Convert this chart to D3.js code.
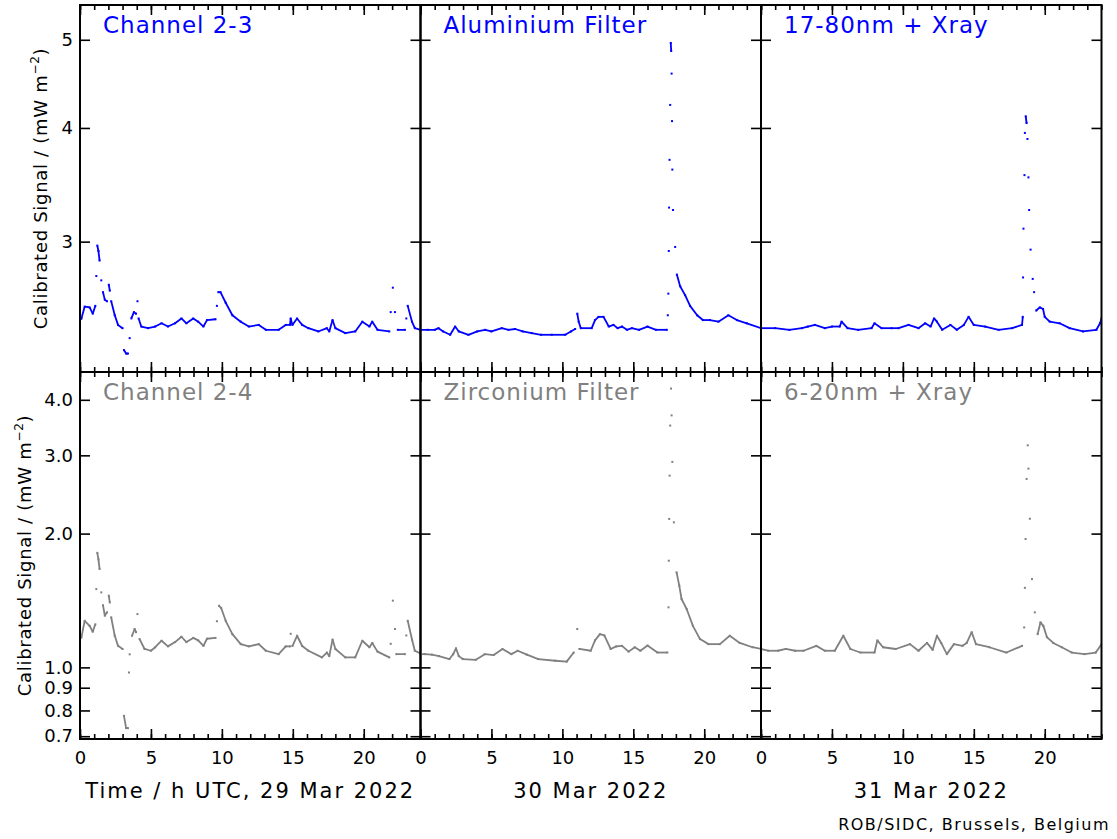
<!DOCTYPE html>
<html>
<head>
<meta charset="utf-8">
<script src="https://cdn.jsdelivr.net/npm/d3@7"></script>
<style>
  body { margin: 0; background: #fff; }
  text { font-family: "DejaVu Sans", sans-serif; }
</style>
</head>
<body>
<div id="chart"></div>
<script>
// days and channel names
var days = ["29 Mar 2022", "30 Mar 2022", "31 Mar 2022"];
var topNames = ["Channel 2-3", "Aluminium Filter", "17-80nm + Xray"];
var bottomNames = ["Channel 2-4", "Zirconium Filter", "6-20nm + Xray"];

// tick values
var hourMajor = [0, 5, 10, 15, 20];
var hourMinor = d3.range(0, 25);
var topTicks = [3, 4, 5];
var bottomTicks = [0.7, 0.8, 0.9, 1.0, 2.0, 3.0, 4.0];

// channel 2-3 (Aluminium), [hour, mW m-2]
var ch23Day1 = [[0.0,2.46],[0.1,2.47],[0.33,2.545],[0.68,2.54],[0.9,2.50],[1.08,2.55],[1.15,2.75],[1.22,2.97],[1.3,2.93],[1.38,2.86],[1.5,2.72],[1.62,2.64],[1.75,2.59],[1.9,2.58],[2.03,2.69],[2.1,2.65],[2.2,2.58],[2.45,2.49],[2.68,2.43],[3.0,2.41],[3.1,2.28],[3.25,2.26],[3.38,2.26],[3.5,2.35],[3.62,2.47],[3.8,2.51],[3.95,2.50],[4.05,2.58],[4.13,2.47],[4.32,2.42],[4.8,2.41],[5.3,2.42],[5.75,2.44],[6.2,2.42],[6.7,2.44],[7.15,2.47],[7.5,2.44],[7.98,2.47],[8.33,2.45],[8.7,2.42],[8.95,2.46],[9.55,2.465],[9.65,2.55],[9.75,2.64],[9.9,2.64],[10.27,2.57],[10.74,2.49],[11.33,2.45],[11.9,2.42],[12.6,2.43],[13.1,2.40],[14.0,2.40],[14.5,2.43],[14.8,2.43],[14.85,2.47],[14.97,2.43],[15.3,2.47],[15.66,2.43],[16.1,2.41],[16.8,2.39],[17.4,2.41],[17.57,2.39],[17.8,2.46],[18.0,2.41],[18.7,2.38],[19.4,2.39],[19.9,2.45],[20.4,2.42],[20.6,2.45],[20.97,2.40],[21.8,2.39],[21.9,2.51],[22.05,2.67],[22.2,2.51],[22.4,2.40],[22.9,2.40],[23.0,2.47],[23.1,2.55],[23.4,2.45],[23.6,2.41],[24.0,2.40]];
var ch23Day2 = [[0,2.40],[0.5,2.40],[1.0,2.40],[1.27,2.41],[1.6,2.39],[2.09,2.37],[2.44,2.42],[2.7,2.39],[3.38,2.37],[4.0,2.39],[4.56,2.40],[5.0,2.39],[5.73,2.41],[6.2,2.40],[6.67,2.405],[7.2,2.39],[7.84,2.38],[8.5,2.37],[9.25,2.37],[10.2,2.37],[10.6,2.39],[10.9,2.405],[11.05,2.50],[11.15,2.45],[11.3,2.41],[12.07,2.41],[12.3,2.46],[12.55,2.48],[12.9,2.48],[13.27,2.42],[13.6,2.43],[13.9,2.41],[14.2,2.42],[14.55,2.40],[14.9,2.41],[15.4,2.40],[16.0,2.42],[16.6,2.40],[17.36,2.40],[17.43,2.49],[17.47,2.63],[17.5,2.93],[17.52,3.27],[17.55,3.69],[17.6,4.24],[17.64,4.96],[17.67,4.86],[17.7,4.59],[17.73,4.07],[17.75,3.6],[17.8,3.25],[17.95,2.96],[18.07,2.76],[18.3,2.68],[18.65,2.62],[19.0,2.55],[19.5,2.49],[19.9,2.46],[20.4,2.46],[21.0,2.45],[21.7,2.49],[22.3,2.46],[23.0,2.44],[24.0,2.41]];
var ch23Day3 = [[0,2.41],[1.0,2.41],[2.0,2.40],[2.88,2.41],[3.3,2.42],[3.8,2.43],[4.5,2.41],[5.0,2.42],[5.55,2.42],[5.68,2.45],[6.1,2.41],[6.85,2.40],[7.79,2.41],[8.0,2.44],[8.5,2.41],[9.2,2.41],[9.7,2.41],[10.4,2.43],[11.1,2.41],[11.57,2.44],[11.95,2.42],[12.2,2.47],[12.4,2.45],[12.77,2.40],[13.35,2.43],[13.8,2.40],[14.3,2.43],[14.63,2.48],[15.0,2.43],[15.8,2.42],[16.75,2.40],[17.7,2.41],[18.4,2.43],[18.45,2.48],[18.47,2.74],[18.5,3.10],[18.57,3.55],[18.6,3.95],[18.66,4.12],[18.72,4.05],[18.78,3.89],[18.85,3.53],[18.9,3.25],[19.0,2.94],[19.15,2.73],[19.25,2.64],[19.4,2.52],[19.65,2.54],[19.88,2.53],[20.0,2.48],[20.35,2.45],[21.05,2.44],[21.75,2.41],[22.7,2.39],[23.64,2.40],[23.9,2.44],[24.0,2.47]];

// channel 2-4 (Zirconium)
var ch24Day1 = [[0.0,1.16],[0.1,1.168],[0.33,1.273],[0.68,1.24],[0.9,1.203],[1.08,1.25],[1.15,1.5],[1.22,1.81],[1.3,1.75],[1.38,1.665],[1.5,1.475],[1.62,1.38],[1.75,1.307],[1.9,1.33],[2.03,1.45],[2.1,1.40],[2.2,1.296],[2.45,1.178],[2.68,1.118],[3.0,1.10],[3.1,0.778],[3.25,0.73],[3.38,0.73],[3.45,0.974],[3.5,1.07],[3.67,1.178],[3.85,1.22],[3.95,1.2],[4.05,1.318],[4.2,1.158],[4.55,1.10],[5.0,1.09],[5.3,1.11],[5.75,1.148],[6.2,1.115],[6.7,1.14],[7.15,1.172],[7.5,1.14],[7.98,1.165],[8.33,1.15],[8.7,1.118],[8.95,1.16],[9.55,1.165],[9.65,1.27],[9.8,1.376],[9.95,1.36],[10.27,1.273],[10.74,1.188],[11.33,1.128],[11.9,1.115],[12.6,1.128],[13.1,1.09],[14.0,1.071],[14.5,1.115],[14.8,1.115],[14.85,1.19],[14.97,1.117],[15.3,1.178],[15.66,1.117],[16.1,1.09],[17.05,1.053],[17.4,1.08],[17.57,1.06],[17.8,1.155],[18.0,1.10],[18.7,1.053],[19.4,1.053],[19.9,1.148],[20.4,1.11],[20.6,1.135],[20.97,1.085],[21.8,1.053],[21.9,1.13],[22.05,1.413],[22.2,1.22],[22.3,1.071],[22.9,1.071],[23.0,1.18],[23.1,1.273],[23.4,1.155],[23.6,1.09],[24.0,1.075]];
var ch24Day2 = [[0,1.071],[0.3,1.071],[0.8,1.068],[1.3,1.06],[2.04,1.044],[2.3,1.07],[2.5,1.104],[2.7,1.06],[2.98,1.044],[3.9,1.04],[4.53,1.071],[5.16,1.066],[5.78,1.10],[6.4,1.071],[6.85,1.09],[7.5,1.068],[8.3,1.044],[9.5,1.035],[10.3,1.03],[10.8,1.08],[11.05,1.22],[11.2,1.10],[12.0,1.09],[12.3,1.15],[12.65,1.188],[12.96,1.18],[13.4,1.10],[13.8,1.115],[14.2,1.118],[14.67,1.085],[15.1,1.11],[15.5,1.09],[16.0,1.12],[16.7,1.08],[17.4,1.08],[17.48,1.365],[17.5,1.738],[17.53,2.158],[17.56,2.70],[17.6,3.50],[17.66,4.24],[17.7,3.69],[17.75,2.90],[17.86,2.12],[18.05,1.636],[18.24,1.527],[18.4,1.425],[18.76,1.353],[19.2,1.24],[19.7,1.158],[20.3,1.128],[21.1,1.128],[21.8,1.178],[22.5,1.135],[23.4,1.11],[24.0,1.10]];
var ch24Day3 = [[0,1.10],[0.5,1.09],[1.2,1.09],[1.75,1.10],[2.4,1.09],[3.0,1.09],[3.9,1.118],[4.5,1.09],[5.2,1.09],[5.8,1.178],[6.3,1.10],[7.0,1.08],[8.0,1.08],[8.2,1.15],[8.6,1.11],[9.5,1.10],[10.5,1.128],[11.1,1.09],[11.7,1.135],[12.1,1.095],[12.4,1.178],[12.7,1.135],[13.1,1.071],[13.6,1.128],[14.2,1.118],[14.5,1.135],[14.85,1.2],[15.15,1.128],[16.1,1.11],[17.3,1.08],[18.4,1.118],[18.55,1.23],[18.6,1.51],[18.65,1.945],[18.72,2.655],[18.8,3.16],[18.85,2.80],[18.95,2.16],[19.1,1.58],[19.3,1.33],[19.5,1.188],[19.7,1.263],[19.9,1.24],[20.15,1.17],[20.6,1.135],[21.2,1.11],[21.9,1.08],[22.8,1.071],[23.6,1.08],[24.0,1.128]];

var topSeries = [ch23Day1, ch23Day2, ch23Day3];
var bottomSeries = [ch24Day1, ch24Day2, ch24Day3];

function init(){
    var w = 1117, h = 839;
    var left = 80, colW = 340.5;
    var rowTop = [5, 372], rowH = 367;

    var svg = d3.select("#chart").append("svg")
        .attr("width", w).attr("height", h)
        .style("background", "#fff");

    var yTop = d3.scaleLog().domain([2.157, 5.46]).range([rowTop[0] + rowH, rowTop[0]]);
    var yBot = d3.scaleLog().domain([0.69, 4.62]).range([rowTop[1] + rowH, rowTop[1]]);

    var rows = [
        {y: yTop, ticks: topTicks, fmt: d3.format("d"), names: topNames, series: topSeries, color: "#0000ff"},
        {y: yBot, ticks: bottomTicks, fmt: d3.format(".1f"), names: bottomNames, series: bottomSeries, color: "#808080"}
    ];

    function styleAxis(g){
        g.select(".domain").remove();
        g.selectAll("line").attr("stroke", "#000").attr("stroke-width", 1.6);
        g.selectAll("text").attr("font-family", "DejaVu Sans, sans-serif")
            .attr("font-size", 18).attr("fill", "#000");
    }

    rows.forEach(function(row, r){
        var top = rowTop[r], bottom = top + rowH;
        for (var c = 0; c < 3; c++) {
            var x0 = left + c * colW, x1 = x0 + colW;
            var x = d3.scaleLinear().domain([0, 24]).range([x0, x1]);

            var clipId = "clip" + r + c;
            svg.append("clipPath").attr("id", clipId).append("rect")
                .attr("x", x0).attr("y", top).attr("width", colW).attr("height", rowH);

            // data marks: steep (near vertical) stretches are left as dots
            var g = svg.append("g").attr("clip-path", "url(#" + clipId + ")");
            var data = row.series[c];
            var y = row.y;
            var segs = d3.pairs(data).filter(function(p){
                var dx = Math.abs(x(p[1][0]) - x(p[0][0]));
                var dy = Math.abs(y(p[1][1]) - y(p[0][1]));
                return dy < 10 || dy / dx < 6;
            });
            g.selectAll("line").data(segs).enter().append("line")
                .attr("x1", function(p){ return x(p[0][0]); })
                .attr("y1", function(p){ return y(p[0][1]); })
                .attr("x2", function(p){ return x(p[1][0]); })
                .attr("y2", function(p){ return y(p[1][1]); })
                .attr("stroke", row.color).attr("stroke-width", 1.8);
            g.selectAll("rect").data(data).enter().append("rect")
                .attr("x", function(d){ return x(d[0]) - 1; })
                .attr("y", function(d){ return y(d[1]) - 1; })
                .attr("width", 2).attr("height", 2)
                .attr("fill", row.color);

            // hour ticks, top and bottom edges
            svg.append("g").attr("transform", "translate(0," + top + ")")
                .call(d3.axisTop(x).tickValues(hourMinor).tickSize(-5).tickFormat(""))
                .call(styleAxis);
            svg.append("g").attr("transform", "translate(0," + top + ")")
                .call(d3.axisTop(x).tickValues(hourMajor).tickSize(-10).tickFormat(""))
                .call(styleAxis);
            svg.append("g").attr("transform", "translate(0," + bottom + ")")
                .call(d3.axisBottom(x).tickValues(hourMinor).tickSize(-5).tickFormat(""))
                .call(styleAxis);
            var bx = d3.axisBottom(x).tickValues(hourMajor).tickSize(-10).tickPadding(12);
            if (r === 0) bx.tickFormat("");
            svg.append("g").attr("transform", "translate(0," + bottom + ")")
                .call(bx).call(styleAxis);

            // signal ticks, left and right edges
            var ly = d3.axisLeft(y).tickValues(row.ticks).tickSize(-10).tickPadding(7)
                .tickFormat(c === 0 ? row.fmt : "");
            svg.append("g").attr("transform", "translate(" + x0 + ",0)").call(ly).call(styleAxis);
            svg.append("g").attr("transform", "translate(" + x1 + ",0)")
                .call(d3.axisRight(y).tickValues(row.ticks).tickSize(-10).tickFormat(""))
                .call(styleAxis);

            // frame
            svg.append("rect").attr("x", x0).attr("y", top)
                .attr("width", colW).attr("height", rowH)
                .attr("fill", "none").attr("stroke", "#000").attr("stroke-width", 2);

            // channel name
            svg.append("text").attr("x", x0 + 23).attr("y", top + 28)
                .attr("font-size", 23).attr("letter-spacing", 1).attr("fill", row.color)
                .text(row.names[c]);
        }
    });

    // x titles
    days.forEach(function(d, i){
        svg.append("text")
            .attr("x", left + i * colW + colW / 2).attr("y", 798)
            .attr("text-anchor", "middle").attr("font-size", 21).attr("letter-spacing", 2)
            .attr("fill", "#000")
            .text(i === 0 ? "Time / h UTC, " + d : d);
    });

    // y titles
    [[47, rowTop[0] + rowH / 2], [31, rowTop[1] + rowH / 2]].forEach(function(p){
        var t = svg.append("text")
            .attr("transform", "translate(" + p[0] + "," + p[1] + ") rotate(-90)")
            .attr("text-anchor", "middle").attr("font-size", 18).attr("letter-spacing", 0.7)
            .attr("fill", "#000");
        t.append("tspan").text("Calibrated Signal / (mW m");
        t.append("tspan").attr("dy", -8).attr("font-size", 12).text("\u22122");
        t.append("tspan").attr("dy", 8).text(")");
    });

    svg.append("text").attr("x", 1110).attr("y", 830)
        .attr("text-anchor", "end").attr("font-size", 16).attr("letter-spacing", 1.5)
        .attr("fill", "#000")
        .text("ROB/SIDC, Brussels, Belgium");
}
window.onload = init;
</script>
</body>
</html>
